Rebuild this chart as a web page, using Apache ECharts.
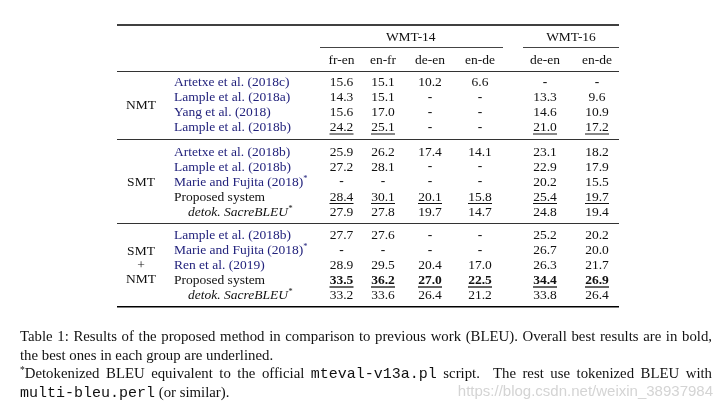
<!DOCTYPE html>
<html><head><meta charset="utf-8">
<script src="https://cdn.jsdelivr.net/npm/echarts@6/dist/echarts.min.js"></script>
<style>html,body{margin:0;padding:0;background:#fff}#c{width:724px;height:409px}</style>
</head><body><div id="c"></div>
<script>
// ---------------- data ----------------
const groups = ['NMT', 'SMT', 'SMT\n+\nNMT'];
const groupSizes = [4, 5, 5];
const systems = [
  'Artetxe et al. (2018c)', 'Lample et al. (2018a)', 'Yang et al. (2018)', 'Lample et al. (2018b)',
  'Artetxe et al. (2018b)', 'Lample et al. (2018b)', 'Marie and Fujita (2018)*', 'Proposed system', 'detok. SacreBLEU*',
  'Lample et al. (2018b)', 'Marie and Fujita (2018)*', 'Ren et al. (2019)', 'Proposed system', 'detok. SacreBLEU*'
];
const datasets = ['WMT-14', 'WMT-16'];
const pairs = ['fr-en', 'en-fr', 'de-en', 'en-de', 'de-en', 'en-de'];
const pairDataset = [0, 0, 0, 0, 1, 1];
const wmt14FrEn = [15.6, 14.3, 15.6, 24.2, 25.9, 27.2, null, 28.4, 27.9, 27.7, null, 28.9, 33.5, 33.2];
const wmt14EnFr = [15.1, 15.1, 17.0, 25.1, 26.2, 28.1, null, 30.1, 27.8, 27.6, null, 29.5, 36.2, 33.6];
const wmt14DeEn = [10.2, null, null, null, 17.4, null, null, 20.1, 19.7, null, null, 20.4, 27.0, 26.4];
const wmt14EnDe = [6.6, null, null, null, 14.1, null, null, 15.8, 14.7, null, null, 17.0, 22.5, 21.2];
const wmt16DeEn = [null, 13.3, 14.6, 21.0, 23.1, 22.9, 20.2, 25.4, 24.8, 25.2, 26.7, 26.3, 34.4, 33.8];
const wmt16EnDe = [null, 9.6, 10.9, 17.2, 18.2, 17.9, 15.5, 19.7, 19.4, 20.2, 20.0, 21.7, 26.9, 26.4];
// emphasis: row index -> column indices
const underlinedCells = { 3: [0, 1, 4, 5], 7: [0, 1, 2, 3, 4, 5], 12: [0, 1, 2, 3, 4, 5] };
const boldCells = { 12: [0, 1, 2, 3, 4, 5] };
// caption: segments per line (s: 'm' = monospace, 'sup' = superscript)
const captionLine1 = [{ t: 'Table 1: Results of the proposed method in comparison to previous work (BLEU). Overall best results are in bold,' }];
const captionLine2 = [{ t: 'the best ones in each group are underlined.' }];
const captionLine3 = [{ t: '*', s: 'sup' }, { t: 'Detokenized BLEU equivalent to the official ' }, { t: 'mteval-v13a.pl', s: 'm' }, { t: ' script.  The rest use tokenized BLEU with' }];
const captionLine4 = [{ t: 'multi-bleu.perl', s: 'm' }, { t: ' (or similar).' }];
const captionJustified = [true, false, true, false];
const watermark = 'https://blog.csdn.net/weixin_38937984';

// ---------------- layout ----------------
const SERIF = '"Liberation Serif", "Times New Roman", serif';
const MONO = '"Liberation Mono", "DejaVu Sans Mono", monospace';
const FS = 13.5;
const INK = '#111';
const CITE = '#23237d';
const colX = [341.5, 383, 430, 480, 545, 597];
const nameX = 174, detokIndent = 14, groupX = 141;
const tableLeft = 117, tableRight = 619;
const groupTop = [82.5, 152, 235.5], rowStep = 15;
const headY = 37, subHeadY = 60.5;
const dsSpan = [[320, 503], [523, 619]];
const capLeft = 20, capWidth = 692, capLH = 18.5;
const capFont = { n: { size: 14.8, fam: SERIF }, m: { size: 15, fam: MONO }, sup: { size: 9.5, fam: SERIF } };

const rowY = [], rowGroup = [];
groupSizes.forEach((n, g) => { for (let i = 0; i < n; i++) { rowY.push(groupTop[g] + i * rowStep); rowGroup.push(g); } });
const valueCols = [wmt14FrEn, wmt14EnFr, wmt14DeEn, wmt14EnDe, wmt16DeEn, wmt16EnDe];

function font(size, weight, style) { return (style || 'normal') + ' ' + (weight || 'normal') + ' ' + size + 'px ' + SERIF; }

// ---------- caption (justified via measured rich fragments) ----------
const mctx = document.createElement('canvas').getContext('2d');
function measure(text, s) { const f = capFont[s]; mctx.font = 'normal normal ' + f.size + 'px ' + f.fam; return mctx.measureText(text).width; }
const capRich = {
  n: { fontFamily: SERIF, fontSize: capFont.n.size, color: INK, lineHeight: capLH },
  m: { fontFamily: MONO, fontSize: capFont.m.size, color: INK, lineHeight: capLH },
  sup: { fontFamily: SERIF, fontSize: capFont.sup.size, color: INK, verticalAlign: 'top', lineHeight: 14 }
};
const captionText = [captionLine1, captionLine2, captionLine3, captionLine4].map((segs, li) => {
  const tokens = [];
  segs.forEach(seg => seg.t.split(/( +)/).forEach(p => { if (p) tokens.push({ t: p, s: seg.s || 'n', space: /^ +$/.test(p) }); }));
  const natural = tokens.filter(t => !t.space).reduce((a, t) => a + measure(t.t, t.s), 0);
  const nSp = tokens.filter(t => t.space).reduce((a, t) => a + t.t.length, 0);
  const spW = captionJustified[li] ? (capWidth - natural) / nSp : measure(' ', 'n');
  return tokens.map((t, ti) => {
    if (t.space) {
      const key = 'sp' + li + '_' + ti;
      capRich[key] = { width: spW * t.t.length, fontFamily: SERIF, fontSize: capFont.n.size, lineHeight: capLH };
      return '{' + key + '| }';
    }
    return '{' + t.s + '|' + t.t + '}';
  }).join('');
}).join('\n');

// ---------- cell items ----------
const cellItems = [];
valueCols.forEach((col, c) => {
  col.forEach((v, r) => {
    const bold = (boldCells[r] || []).includes(c);
    const under = (underlinedCells[r] || []).includes(c);
    cellItems.push({ x: colX[c], y: rowY[r], label: v == null ? '-' : v.toFixed(1), bold: bold || v == null, under });
  });
});

// ---------- text items (names, groups, headers) ----------
const textItems = [];
systems.forEach((s, r) => {
  const detok = s.startsWith('detok.');
  const own = s === 'Proposed system' || detok;
  const star = s.endsWith('*');
  const base = star ? s.slice(0, -1) : s;
  textItems.push({ x: nameX + (detok ? detokIndent : 0), y: rowY[r], text: star ? base + '{sup|*}' : base,
    align: 'left', fill: own ? INK : CITE, italic: detok });
});
groups.forEach((g, gi) => {
  const rows = rowY.filter((_, i) => rowGroup[i] === gi);
  textItems.push({ x: groupX, y: (rows[0] + rows[rows.length - 1]) / 2, text: g, align: 'center', fill: INK, lh: 14 });
});
datasets.forEach((d, di) => {
  const cs = colX.filter((_, c) => pairDataset[c] === di);
  textItems.push({ x: (cs[0] + cs[cs.length - 1]) / 2, y: headY, text: d, align: 'center', fill: INK });
});
pairs.forEach((p, c) => textItems.push({ x: colX[c], y: subHeadY, text: p, align: 'center', fill: INK }));

// ---------- rules ----------
const ruleItems = [
  { y: 25, x1: tableLeft, x2: tableRight, w: 1.6, c: '#000' },
  { y: 47.5, x1: dsSpan[0][0], x2: dsSpan[0][1], w: 1, c: '#444' },
  { y: 47.5, x1: dsSpan[1][0], x2: dsSpan[1][1], w: 1, c: '#444' },
  { y: 71.5, x1: tableLeft, x2: tableRight, w: 1, c: '#333' },
  { y: 139.5, x1: tableLeft, x2: tableRight, w: 1, c: '#333' },
  { y: 223.5, x1: tableLeft, x2: tableRight, w: 1, c: '#333' },
  { y: 306.8, x1: tableLeft, x2: tableRight, w: 1.6, c: '#000' }
];

const chart = echarts.init(document.getElementById('c'), null, { renderer: 'canvas' });

chart.setOption({
  animation: false,
  backgroundColor: '#fff',
  grid: { left: 0, right: 0, top: 0, bottom: 0, containLabel: false },
  xAxis: { type: 'value', min: 0, max: 724, show: false },
  yAxis: { type: 'value', min: 0, max: 409, inverse: true, show: false },
  title: {
    left: capLeft, top: 328, padding: 0,
    text: captionText,
    textStyle: { fontFamily: SERIF, fontSize: capFont.n.size, fontWeight: 'normal', color: INK, lineHeight: capLH, rich: capRich }
  },
  graphic: [{
    type: 'text', right: 11, top: 384,
    style: { text: watermark, fill: '#d4d4d4', font: 'normal 15px "Liberation Sans", Arial, sans-serif' }
  }],
  series: [
    {
      type: 'custom', name: 'rules', silent: true,
      data: ruleItems.map(r => [r.x1, r.y]),
      encode: { x: 0, y: 1 },
      renderItem(params, api) {
        const r = ruleItems[params.dataIndex];
        const a = api.coord([r.x1, r.y]), b = api.coord([r.x2, r.y]);
        return { type: 'line', shape: { x1: a[0], y1: a[1], x2: b[0], y2: b[1] }, style: { stroke: r.c, lineWidth: r.w } };
      }
    },
    {
      type: 'custom', name: 'labels', silent: true,
      data: textItems.map(t => [t.x, t.y]),
      encode: { x: 0, y: 1 },
      renderItem(params, api) {
        const t = textItems[params.dataIndex];
        const p = api.coord([api.value(0), api.value(1)]);
        return { type: 'text', x: p[0], y: p[1], style: {
          text: t.text, fill: t.fill, font: font(FS, 'normal', t.italic ? 'italic' : 'normal'),
          align: t.align, verticalAlign: 'middle', lineHeight: t.lh || 16,
          rich: { sup: { fontSize: 8.5, fontFamily: SERIF, verticalAlign: 'top', lineHeight: 12, fill: t.fill, fontStyle: t.italic ? 'italic' : 'normal' } }
        } };
      }
    },
    {
      type: 'custom', name: 'BLEU', silent: true,
      data: cellItems.map(d => [d.x, d.y]),
      encode: { x: 0, y: 1 },
      renderItem(params, api) {
        const d = cellItems[params.dataIndex];
        const p = api.coord([api.value(0), api.value(1)]);
        const children = [{ type: 'text', x: p[0], y: p[1], style: {
          text: d.label, fill: INK, font: font(FS, d.bold ? 'bold' : 'normal'), align: 'center', verticalAlign: 'middle' } }];
        if (d.under) {
          children.push({ type: 'line', shape: { x1: p[0] - 12, y1: p[1] + 6.5, x2: p[0] + 12, y2: p[1] + 6.5 },
            style: { stroke: INK, lineWidth: d.bold ? 1.3 : 1 } });
        }
        return { type: 'group', children };
      }
    }
  ]
});
</script></body></html>
